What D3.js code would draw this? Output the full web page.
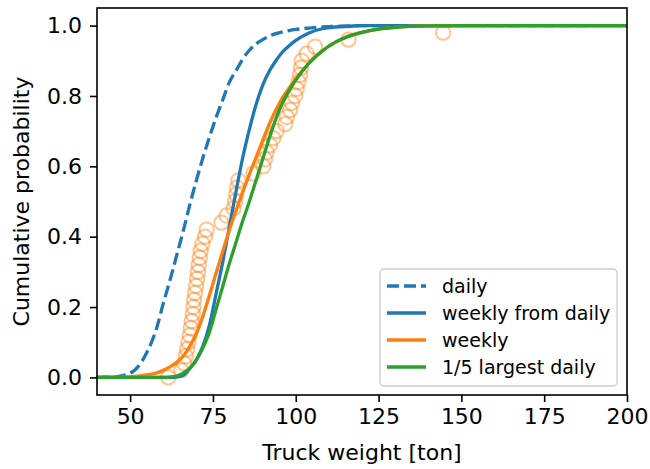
<!DOCTYPE html>
<html>
<head>
<meta charset="utf-8">
<script src="https://cdn.jsdelivr.net/npm/d3@7"></script>
<style>
html,body{margin:0;padding:0;background:#fff;}
svg{display:block;font-family:"DejaVu Sans",sans-serif;}
</style>
</head>
<body>
<svg id="chart" width="650" height="469"></svg>
<script>
// ---- data ----
const xGrid = [40,45,50,55,58,60,62,64,66,68,70,72,74,76,78,80,82,84,86,88,90,92,94,96,98,100,104,108,112,116,120,125,130,140,150,200];
const dailyP = [0,0.001,0.012,0.07,0.14,0.21,0.275,0.345,0.415,0.49,0.56,0.625,0.685,0.74,0.79,0.84,0.872,0.905,0.93,0.948,0.96,0.97,0.977,0.982,0.986,0.989,0.993,0.996,0.998,0.999,1,1,1,1,1,1];
const weeklyFromDailyP = [0,0,0,0,0,0,0,0.001,0.006,0.025,0.05,0.09,0.15,0.24,0.33,0.43,0.53,0.625,0.705,0.775,0.83,0.87,0.9,0.925,0.943,0.958,0.979,0.991,0.996,0.998,1,1,1,1,1,1];
const weeklyP = [0,0.0005,0.002,0.007,0.013,0.02,0.03,0.042,0.06,0.088,0.125,0.175,0.235,0.298,0.36,0.42,0.475,0.527,0.577,0.625,0.673,0.72,0.76,0.795,0.823,0.848,0.893,0.928,0.953,0.97,0.981,0.99,0.995,0.999,1,1];
const largestDailyP = [0,0,0,0,0,0,0.001,0.004,0.012,0.027,0.05,0.085,0.13,0.195,0.26,0.325,0.385,0.445,0.5,0.56,0.62,0.68,0.735,0.78,0.815,0.845,0.893,0.928,0.953,0.97,0.981,0.99,0.995,0.999,1,1];

// observed weekly maxima (empirical CDF points)
const weeklyObsX = [61.5,65.5,66.3,66.8,67.2,67.6,68.0,68.3,68.6,68.9,69.1,69.3,69.6,69.9,70.2,70.5,70.7,71.0,71.3,71.8,72.6,73.1,77.6,79.1,81.2,81.7,82.0,82.3,82.7,87.2,90.2,90.7,91.2,92.2,93.2,94.2,96.8,97.3,98.3,98.8,99.8,100.3,100.8,101.3,101.6,101.8,103.3,105.8,115.9,144.5];
const weeklyObsP = [0,0.02,0.04,0.06,0.08,0.10,0.12,0.14,0.16,0.18,0.20,0.22,0.24,0.26,0.28,0.30,0.32,0.34,0.36,0.38,0.40,0.42,0.44,0.46,0.48,0.50,0.52,0.54,0.56,0.58,0.60,0.62,0.64,0.66,0.68,0.70,0.72,0.74,0.76,0.78,0.80,0.82,0.84,0.86,0.88,0.90,0.92,0.94,0.96,0.98];

const xTicks = [50,75,100,125,150,175,200];
const yTicks = [0.0,0.2,0.4,0.6,0.8,1.0];
const seriesNames = ["daily","weekly from daily","weekly","1/5 largest daily"];
const seriesColors = ["#1f77b4","#1f77b4","#ff7f0e","#2ca02c"];

// ---- layout ----
const L = 97, T = 8, R = 627, B = 395;
const svg = d3.select("#chart");
const x = d3.scaleLinear().domain([40,200]).range([L,R]);
const y = d3.scaleLinear().domain([-0.05,1.05]).range([B,T]);

svg.append("defs").append("clipPath").attr("id","clip")
  .append("rect").attr("x",L).attr("y",T).attr("width",R-L).attr("height",B-T);

const plot = svg.append("g").attr("clip-path","url(#clip)");

// scatter
plot.append("g").selectAll("circle").data(weeklyObsX).join("circle")
  .attr("cx",(d)=>x(d)).attr("cy",(d,i)=>y(weeklyObsP[i])).attr("r",7.2)
  .attr("fill","none").attr("stroke","#ff7f0e").attr("stroke-opacity",0.45).attr("stroke-width",2);

const line = (arr)=>d3.line().curve(d3.curveMonotoneX).x((d,i)=>x(xGrid[i])).y(d=>y(d))(arr);
const seriesData = [dailyP, weeklyFromDailyP, weeklyP, largestDailyP];
seriesData.forEach((arr,k)=>{
  plot.append("path").attr("d",line(arr)).attr("fill","none")
    .attr("stroke",seriesColors[k]).attr("stroke-width",3.3)
    .attr("stroke-linecap", k===0 ? "butt" : "square")
    .attr("stroke-dasharray", k===0 ? "12,5" : null);
});

// axes
const xAxis = svg.append("g").attr("transform",`translate(0,${B})`)
  .call(d3.axisBottom(x).tickValues(xTicks).tickFormat(d3.format("d")).tickSize(7).tickPadding(6));
const yAxis = svg.append("g").attr("transform",`translate(${L},0)`)
  .call(d3.axisLeft(y).tickValues(yTicks).tickFormat(d3.format(".1f")).tickSize(7).tickPadding(8));
[xAxis,yAxis].forEach(g=>{
  g.select(".domain").remove();
  g.selectAll(".tick line").attr("stroke","#000").attr("stroke-width",1.6);
  g.selectAll(".tick text").attr("fill","#000").style("font-size","22px").style("font-family","DejaVu Sans");
});

// frame
svg.append("rect").attr("x",L).attr("y",T).attr("width",R-L).attr("height",B-T)
  .attr("fill","none").attr("stroke","#000").attr("stroke-width",1.6);

// axis labels
svg.append("text").attr("x",(L+R)/2).attr("y",460).attr("text-anchor","middle")
  .style("font-size","22px").text("Truck weight [ton]");
svg.append("text").attr("transform",`translate(28.5,${(T+B)/2}) rotate(-90)`).attr("text-anchor","middle")
  .style("font-size","22px").text("Cumulative probability");

// legend
const lg = svg.append("g");
lg.append("rect").attr("x",380).attr("y",269).attr("width",237).attr("height",117).attr("rx",4)
  .attr("fill","#fff").attr("fill-opacity",0.8).attr("stroke","#cccccc").attr("stroke-width",1.3);
seriesNames.forEach((name,k)=>{
  const cy = 286 + k*27;
  lg.append("line").attr("x1",387).attr("x2",426).attr("y1",cy).attr("y2",cy)
    .attr("stroke",seriesColors[k]).attr("stroke-width",3.3)
    .attr("stroke-dasharray", k===0 ? "12,5" : null);
  lg.append("text").attr("x",442).attr("y",cy+7).style("font-size","19px").attr("fill","#000").text(name);
});
</script>
</body>
</html>
